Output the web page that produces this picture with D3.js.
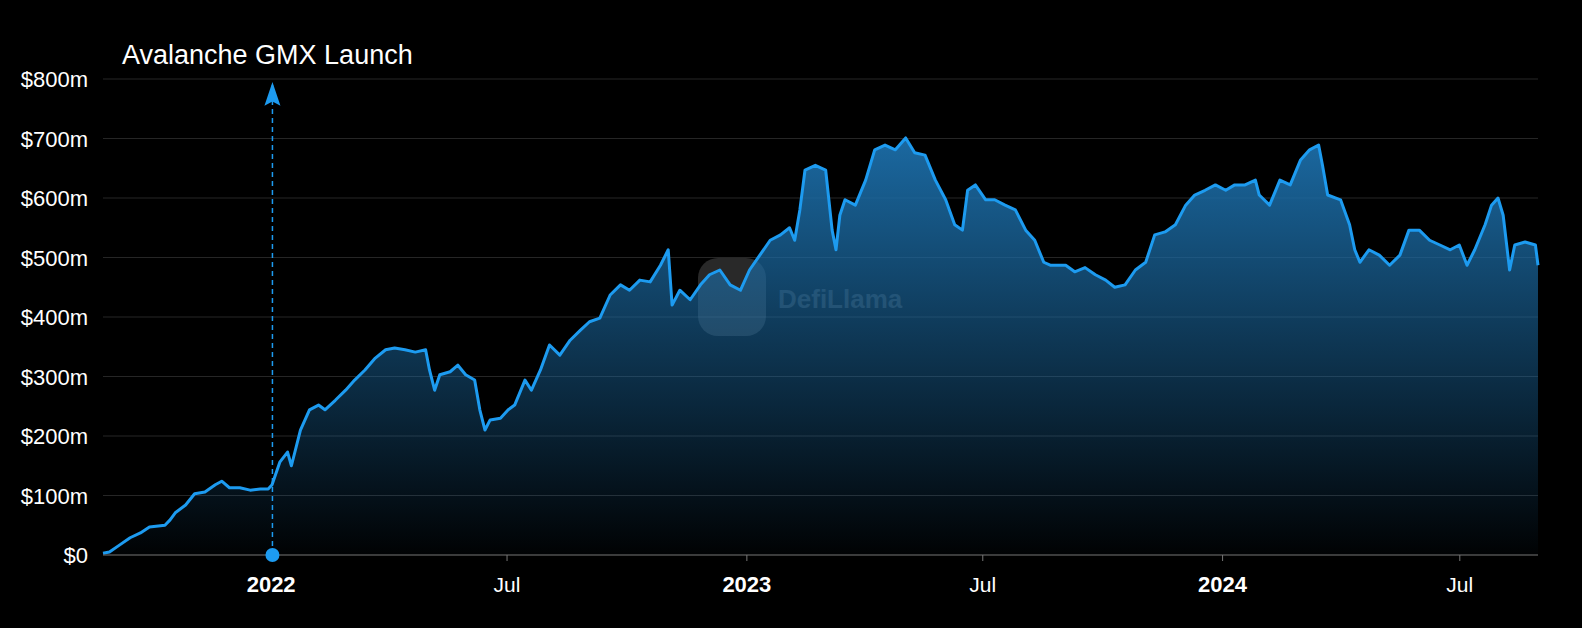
<!DOCTYPE html>
<html><head><meta charset="utf-8">
<script src="https://cdn.jsdelivr.net/npm/d3@7/dist/d3.min.js"></script>
<style>body{margin:0;background:#000;}svg{display:block;font-family:"Liberation Sans",Arial,sans-serif;}</style>
</head><body><svg id="c" width="1582" height="628"></svg>
<script>
const startDate = "2021-08-25";
const endDate = "2024-08-30";
const dayOffsets = [0,5,13,21,29,36,48,52,56,64,71,79,87,92,98,106,114,122,128,131,137,143,146,153,160,167,172,180,188,195,203,211,219,226,234,242,250,253,257,261,269,275,281,288,292,296,300,308,314,319,327,332,339,346,354,362,370,377,385,393,401,408,416,424,432,438,441,447,455,463,470,478,486,494,501,509,517,525,532,536,540,544,552,560,565,568,571,575,583,591,598,606,614,622,629,637,645,653,660,666,670,676,684,691,699,707,715,722,729,734,746,753,761,769,777,784,792,800,808,815,823,831,839,846,854,862,870,877,885,893,896,904,912,920,928,935,942,945,949,959,966,970,974,981,989,997,1005,1012,1020,1028,1036,1044,1051,1057,1063,1071,1076,1081,1085,1090,1094,1102,1110,1112];
const tvlMillions = [3,5,17,29,37,47,50,59,71,84,103,106,118,124,113,113,109,111,111,118,156,173,150,210,244,252,244,260,277,294,311,331,345,348,345,341,345,311,277,303,308,319,303,294,244,210,227,230,244,252,294,277,311,353,336,361,378,392,398,437,454,445,462,459,487,513,420,445,429,454,471,479,454,445,479,504,529,538,550,529,580,647,655,647,546,513,571,597,588,630,681,689,681,701,676,672,630,597,555,546,613,622,597,597,588,580,546,529,492,487,487,476,483,471,462,450,454,479,492,538,543,555,588,605,613,622,613,622,622,630,605,588,630,622,664,681,689,655,605,597,555,513,492,513,504,487,504,546,546,529,521,513,521,487,513,555,588,600,571,479,521,526,521,487];
const yTicks = [0,100,200,300,400,500,600,700,800];
const yTickLabels = ["$0","$100m","$200m","$300m","$400m","$500m","$600m","$700m","$800m"];
const eventDate = "2022-01-02";
const eventLabel = "Avalanche GMX Launch";

const s0 = new Date(startDate+"T00:00:00"), s1 = new Date(endDate+"T00:00:00");
const totalDays = (s1 - s0)/864e5, k = totalDays / dayOffsets[dayOffsets.length-1];
const data = dayOffsets.map((o,i)=>({d:new Date(+s0 + o*k*864e5), v:tvlMillions[i]}));

const svg = d3.select("#c");
const L=103,R=1538,T=79,B=555;
const x = d3.scaleTime().domain([s0,s1]).range([L,R]);
const y = d3.scaleLinear().domain([0,800]).range([B,T]);

const defs = svg.append("defs");
const g = defs.append("linearGradient").attr("id","fill").attr("x1",0).attr("x2",0)
 .attr("gradientUnits","userSpaceOnUse").attr("y1",y(710)).attr("y2",B);
g.append("stop").attr("offset",0).attr("stop-color","#1b6aa3").attr("stop-opacity",1);
g.append("stop").attr("offset",1).attr("stop-color","#1b6aa3").attr("stop-opacity",0.02);

svg.append("g").selectAll("line").data(yTicks.slice(1)).join("line")
 .attr("x1",L).attr("x2",R).attr("y1",d=>y(d)).attr("y2",d=>y(d)).attr("stroke","#262626").attr("stroke-width",1);
svg.append("g").selectAll("text").data(yTicks).join("text")
 .attr("x",88).attr("y",d=>y(d)+8).attr("text-anchor","end").attr("fill","#fff").attr("font-size",22)
 .text((d,i)=>yTickLabels[i]);

const wm = svg.append("g").attr("opacity",0.22);
wm.append("rect").attr("x",698).attr("y",258).attr("width",68).attr("height",78).attr("rx",20).attr("fill","#bbb");
wm.append("text").attr("x",778).attr("y",308).attr("fill","#ddd").attr("font-size",26).attr("font-weight","bold").text("DefiLlama");

svg.append("path").datum(data).attr("fill","url(#fill)")
 .attr("d",d3.area().x(d=>x(d.d)).y0(B).y1(d=>y(d.v)));
svg.append("path").datum(data).attr("fill","none").attr("stroke","#1d9bf0").attr("stroke-width",3).attr("stroke-linejoin","round")
 .attr("d",d3.line().x(d=>x(d.d)).y(d=>y(d.v)));

svg.append("line").attr("x1",L).attr("x2",R).attr("y1",B).attr("y2",B).attr("stroke","#777");
const xt = [["2022-01-01","2022",true],["2022-07-01","Jul",false],["2023-01-01","2023",true],["2023-07-01","Jul",false],["2024-01-01","2024",true],["2024-07-01","Jul",false]];
xt.forEach(([ds,lab,b])=>{
 const px = x(new Date(ds+"T00:00:00"));
 svg.append("line").attr("x1",px).attr("x2",px).attr("y1",B).attr("y2",B+6).attr("stroke","#777");
 svg.append("text").attr("x",px).attr("y",592).attr("text-anchor","middle").attr("fill","#fff")
  .attr("font-size",b?22:21).attr("font-weight",b?"bold":"normal").text(lab);
});

const ex = x(new Date(eventDate+"T00:00:00"));
svg.append("line").attr("x1",ex).attr("x2",ex).attr("y1",B).attr("y2",y(790)).attr("stroke","#1d9bf0").attr("stroke-width",1.5).attr("stroke-dasharray","5,4");
svg.append("path").attr("d",`M${ex},${y(795)} L${ex-8},${y(755)} L${ex},${y(762)} L${ex+8},${y(755)} Z`).attr("fill","#1d9bf0");
svg.append("circle").attr("cx",ex).attr("cy",B).attr("r",7).attr("fill","#1d9bf0");
svg.append("text").attr("x",122).attr("y",64).attr("fill","#fff").attr("font-size",27).text(eventLabel);
</script></body></html>
